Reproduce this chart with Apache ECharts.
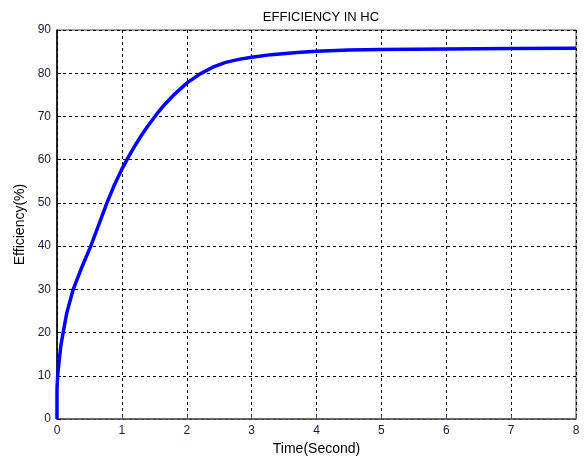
<!DOCTYPE html>
<html>
<head>
<meta charset="utf-8">
<script src="https://cdn.jsdelivr.net/npm/echarts@6/dist/echarts.min.js"></script>
<style>
  html, body { margin: 0; padding: 0; background: #fff; }
  #chart { width: 585px; height: 461px; }
</style>
</head>
<body>
<div id="chart"></div>
<script>
// time (s) and efficiency (%)
var timeSec = [0, 0, 0.01, 0.03, 0.06, 0.095, 0.15, 0.25, 0.38, 0.52, 0.645, 0.77, 0.88, 1.0, 1.1, 1.2, 1.3, 1.4, 1.53, 1.65, 1.8, 2.0, 2.2, 2.4, 2.6, 2.8, 3.0, 3.3, 3.7, 4.0, 4.5, 5.0, 6.0, 7.0, 8.0];
var efficiency = [0, 7, 10, 13, 17, 20, 24.5, 30, 35, 40, 45, 50, 54, 57.8, 60.6, 63.2, 65.6, 67.8, 70.4, 72.6, 75, 77.7, 79.8, 81.4, 82.5, 83.2, 83.7, 84.3, 84.8, 85.1, 85.35, 85.5, 85.6, 85.7, 85.8];

var points = timeSec.map(function (t, i) { return [t, efficiency[i]]; });

var chart = echarts.init(document.getElementById('chart'));

var font = 'Liberation Sans, Arial, sans-serif';
var gridLine = { show: true, lineStyle: { type: [3, 3], color: '#000', width: 1 } };
var labelStyle = { color: '#1a1a40', fontSize: 12, fontFamily: font };

chart.setOption({
    animation: false,
    title: {
        text: 'EFFICIENCY IN HC',
        left: 316,
        top: 6,
        textAlign: 'center',
        textStyle: { fontSize: 13, fontWeight: 'normal', color: '#000', fontFamily: font }
    },
    grid: { left: 57, top: 30, right: 9, bottom: 41, show: true, borderColor: '#444', borderWidth: 1 },
    xAxis: {
        type: 'value',
        min: 0, max: 8, interval: 1,
        name: 'Time(Second)',
        nameLocation: 'middle',
        nameGap: 23,
        nameTextStyle: { fontSize: 14, color: '#000', fontFamily: font },
        axisLine: { show: true, lineStyle: { color: '#555', width: 1.5 } },
        axisTick: { show: true, inside: true, length: 4, lineStyle: { color: '#555' } },
        axisLabel: Object.assign({ margin: 6 }, labelStyle),
        splitLine: gridLine
    },
    yAxis: {
        type: 'value',
        min: 0, max: 90, interval: 10,
        name: 'Efficiency(%)',
        nameLocation: 'middle',
        nameGap: 27,
        nameTextStyle: { fontSize: 14, color: '#000', fontFamily: font },
        axisLine: { show: true, lineStyle: { color: '#000', width: 1.5 } },
        axisTick: { show: true, inside: true, length: 4, lineStyle: { color: '#000' } },
        axisLabel: Object.assign({ margin: 6 }, labelStyle),
        splitLine: gridLine
    },
    series: [{
        type: 'line',
        data: points,
        smooth: false,
        showSymbol: false,
        lineStyle: { color: '#0000ff', width: 3.5, join: 'round' }
    }]
});
</script>
</body>
</html>
